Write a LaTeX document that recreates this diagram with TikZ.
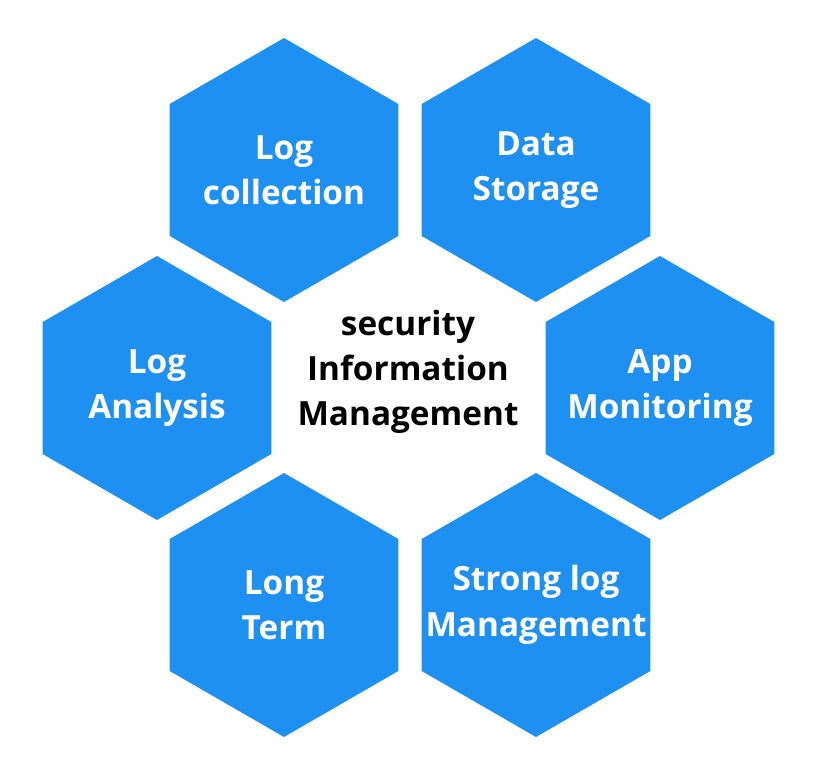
\documentclass[tikz,border=0pt]{standalone}
\usepackage{fontspec}
\setmainfont{Open Sans}
\usetikzlibrary{shapes.geometric}
\definecolor{hexblue}{RGB}{30,144,242}
\tikzset{every picture/.style={line width=0.75pt},
  hexcell/.style={regular polygon, regular polygon sides=6, shape border rotate=30,
    minimum size=198pt, inner sep=0pt, fill=hexblue, draw=none},
  hextext/.style={text=white, font=\bfseries\fontsize{25}{34}\selectfont, align=center},
  midtext/.style={font=\bfseries\fontsize{25}{34}\selectfont, align=center}}

\begin{document}
\begin{tikzpicture}[x=0.75pt,y=0.75pt,yscale=-1,xscale=1]
\useasboundingbox (0,0) rectangle (817,766);

% Hexagons
\node [hexcell] (collect) at (284,170) {};
\node [hexcell] (storage) at (536,170) {};
\node [hexcell] (analysis) at (157,388) {};
\node [hexcell] (monitor) at (660,388) {};
\node [hexcell] (longterm) at (284,605) {};
\node [hexcell] (strong) at (536,605) {};

% Text Nodes
\node [hextext] at (collect) {Log\\collection};
\node [hextext] at (storage) {Data\\Storage};
\node [hextext] at (analysis) {Log\\Analysis};
\node [hextext] at (monitor) {App\\Monitoring};
\node [hextext] at (longterm) {Long\\Term};
\node [hextext] at (strong) {Strong log\\Management};
\node [midtext] (center) at (408,372) {security\\Information\\Management};

\end{tikzpicture}
\end{document}
